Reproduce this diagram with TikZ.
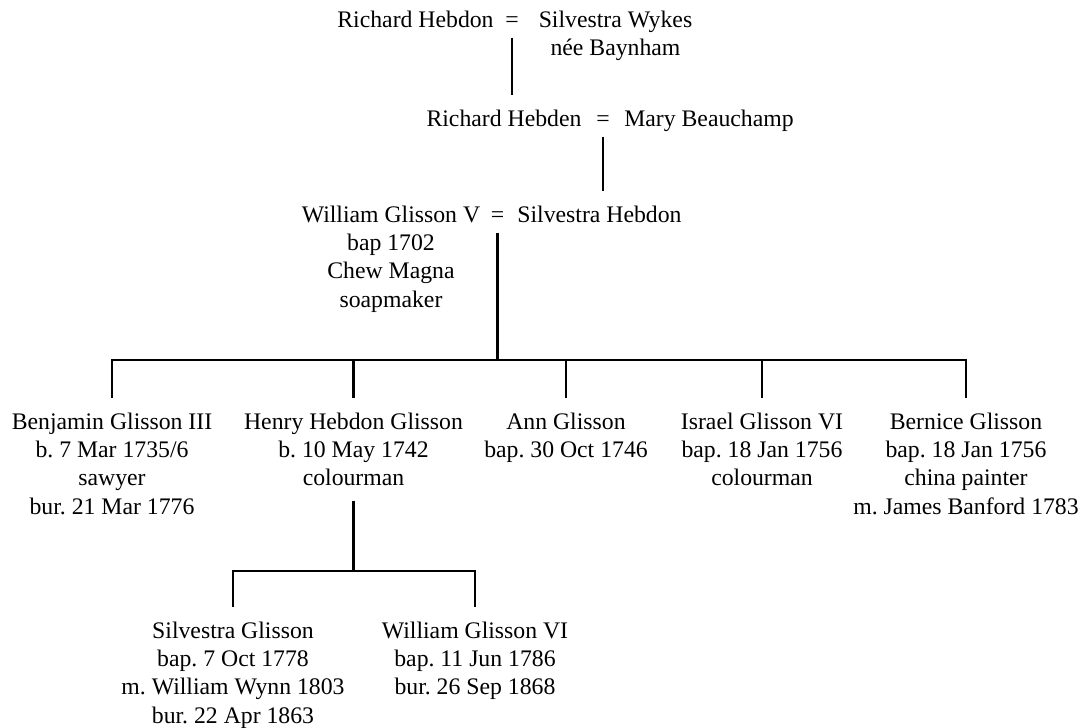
\documentclass[tikz,border=0pt]{standalone}
\usepackage{fontspec}
\setmainfont{Liberation Serif}
\frenchspacing

\tikzset{
    person/.style={align=center, inner sep=0pt, outer ysep=11pt, anchor=north,
                   font=\fontsize{17.8}{21.2}\selectfont},
    wed/.style={inner sep=0pt, outer ysep=8pt, anchor=base,
                font=\fontsize{17.8}{21.2}\selectfont},
    branch/.style={line width=2.2pt}
}

\begin{document}
\begin{tikzpicture}[x=0.75pt,y=-0.75pt]

            \useasboundingbox (0,0) rectangle (1083,728);

            % Top couple
            \node[person] (rhebdon) at (415.5,-3.9) {Richard Hebdon};
            \node[wed] (wed1) at (512,27) {=};
            \node[person] (swykes) at (615.5,-3.9) {Silvestra Wykes\\née Baynham};

            % Second couple
            \node[person] (rhebden) at (504,95.1) {Richard Hebden};
            \node[wed] (wed2) at (603,126) {=};
            \node[person] (mbeau) at (709,95.1) {Mary Beauchamp};

            % Third couple
            \node[person] (wglisson) at (391,191.1) {William Glisson V\\bap 1702\\Chew Magna\\soapmaker};
            \node[wed] (wed3) at (497.5,222) {=};
            \node[person] (shebdon) at (599.5,191.1) {Silvestra Hebdon};

            % Children
            \node[person] (benjamin) at (112,398.1) {Benjamin Glisson III\\b. 7 Mar 1735/6\\sawyer\\bur. 21 Mar 1776};
            \node[person] (henry) at (353.5,398.1) {Henry Hebdon Glisson\\b. 10 May 1742\\colourman};
            \node[person] (ann) at (566,398.1) {Ann Glisson\\bap. 30 Oct 1746};
            \node[person] (israel) at (762,398.1) {Israel Glisson VI\\bap. 18 Jan 1756\\colourman};
            \node[person] (bernice) at (966,398.1) {Bernice Glisson\\bap. 18 Jan 1756\\china painter\\m. James Banford 1783};

            % Grandchildren
            \node[person] (silvestra) at (233,607.1) {Silvestra Glisson\\bap. 7 Oct 1778\\m. William Wynn 1803\\bur. 22 Apr 1863};
            \node[person] (william) at (475,607.1) {William Glisson VI\\bap. 11 Jun 1786\\bur. 26 Sep 1868};

            \coordinate (bar1) at (0,360);
            \coordinate (bar2) at (0,571);

            % Descent lines
            \draw[branch] (wed1.south) -- (wed1.south |- rhebden.north);
            \draw[branch] (wed2.south) -- (wed2.south |- shebdon.north);
            \draw[branch] (wed3.south) -- (wed3.south |- bar1);
            \draw[branch] (benjamin.north) |- (bar1 -| bernice.north) -- (bernice.north);
            \foreach \kid in {henry,ann,israel}
                \draw[branch] (\kid.north) -- (\kid.north |- bar1);
            \draw[branch] (henry.south) -- (henry.south |- bar2);
            \draw[branch] (silvestra.north) |- (bar2 -| william.north) -- (william.north);

\end{tikzpicture}
\end{document}
